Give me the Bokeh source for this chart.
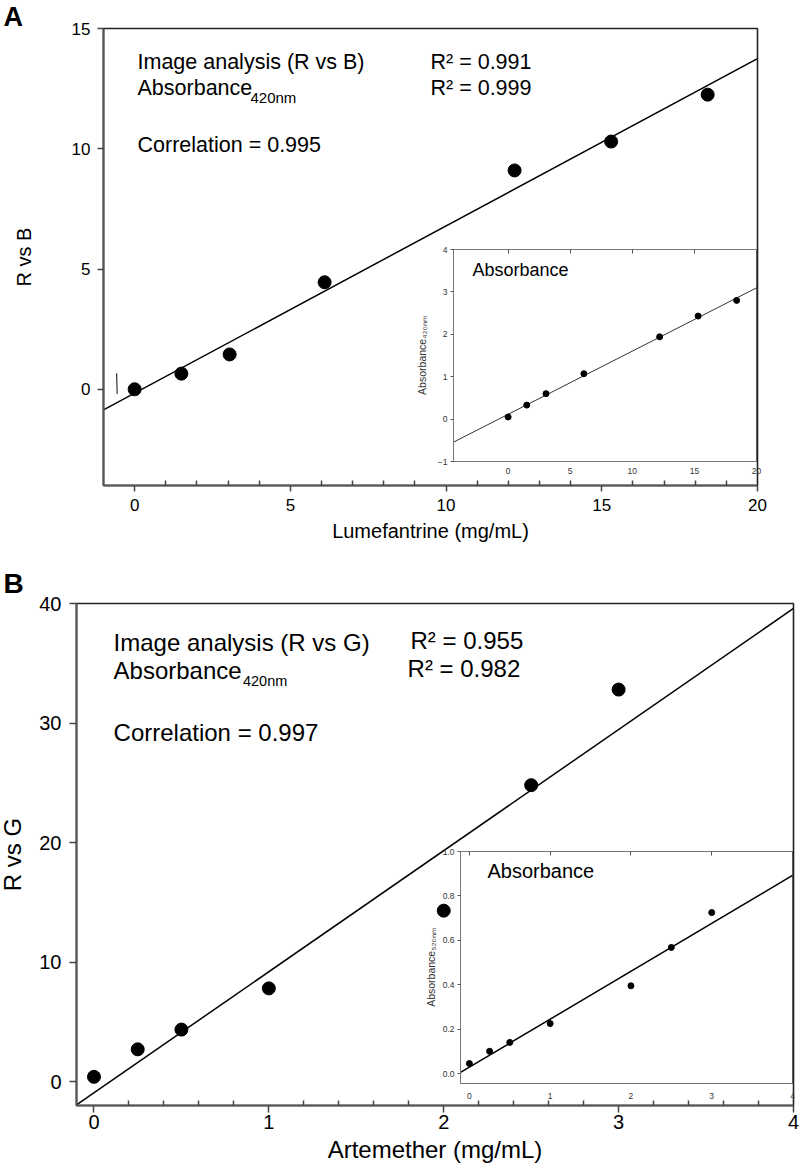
import numpy as np
from bokeh.plotting import figure
from bokeh.models import Range1d, FixedTicker, Label, LinearAxis, NumeralTickFormatter
from bokeh.embed import file_html
from bokeh.resources import INLINE

FONT = "Liberation Sans"

# ---------------- Panel A : Lumefantrine ----------------
lum_conc = [0.0, 1.5, 3.05, 6.1, 12.2, 15.3, 18.4]          # mg/mL
lum_r_vs_b = [0.0, 0.65, 1.45, 4.45, 9.1, 10.3, 12.25]      # image analysis (R vs B)
lum_abs420 = [0.05, 0.33, 0.60, 1.07, 1.94, 2.43, 2.80]     # inset absorbance
stray_x = [-0.58, -0.56]                                    # small stray mark near origin
stray_y = [0.67, -0.19]

a_xticks = [0, 5, 10, 15, 20]
a_xminor = [1, 2, 3, 4, 6, 7, 8, 9, 11, 12, 13, 14, 16, 17, 18, 19]
a_yticks = [0, 5, 10, 15]
ia_xticks = [0, 5, 10, 15, 20]
ia_yticks = [-1, 0, 1, 2, 3, 4]

# ---------------- Panel B : Artemether ----------------
art_conc = [0.0, 0.25, 0.5, 1.0, 2.0, 2.5, 3.0]             # mg/mL
art_r_vs_g = [0.4, 2.7, 4.35, 7.8, 14.3, 24.8, 32.8]        # image analysis (R vs G)
art_abs520 = [0.045, 0.10, 0.14, 0.225, 0.395, 0.568, 0.725]  # inset absorbance

b_xticks = [0, 1, 2, 3, 4]
b_xminor = [0.2, 0.4, 0.6, 0.8, 1.2, 1.4, 1.6, 1.8, 2.2, 2.4, 2.6, 2.8, 3.2, 3.4, 3.6, 3.8]
b_yticks = [0, 10, 20, 30, 40]
ib_xticks = [0, 1, 2, 3, 4]
ib_yticks = [0.0, 0.2, 0.4, 0.6, 0.8, 1.0]

# axis limits of each panel
A_XL, A_YL = (-1.0, 20.0), (-4.0, 15.0)
IA_XL, IA_YL = (-4.4, 20.0), (-1.0, 4.0)
B_XL, B_YL = (-0.1, 4.0), (-2.0, 40.0)
IB_XL, IB_YL = (-0.11, 4.0), (-0.045, 1.0)

# ---------------- one canvas, four panels placed by their own ranges ----------------
W, H = 800, 1168

# pixel boxes of the panels' frames (left, right, top, bottom)
BOX = {
    "a": (103, 757, 28, 485),
    "ia": (453, 756, 249, 461),
    "b": (76, 793, 603, 1105),
    "ib": (460, 792, 851, 1083),
}
LIMS = {"a": (A_XL, A_YL), "ia": (IA_XL, IA_YL), "b": (B_XL, B_YL), "ib": (IB_XL, IB_YL)}


def x_range_for(lim, p0, p1):
    a, b = lim
    k = (b - a) / (p1 - p0)
    return Range1d(a - p0 * k, b + (W - p1) * k)


def y_range_for(lim, top, bottom):
    a, b = lim
    k = (b - a) / (bottom - top)
    return Range1d(a - (H - bottom) * k, b + top * k)


p = figure(width=W, height=H, x_range=Range1d(0, W), y_range=Range1d(0, H),
           x_axis_type=None, y_axis_type=None,
           output_backend="svg", toolbar_location=None,
           min_border_left=0, min_border_right=0, min_border_top=0, min_border_bottom=0)
p.outline_line_color = None
p.title.visible = False
p.extra_x_ranges = {k: x_range_for(LIMS[k][0], BOX[k][0], BOX[k][1]) for k in BOX}
p.extra_y_ranges = {k: y_range_for(LIMS[k][1], BOX[k][2], BOX[k][3]) for k in BOX}


def fit_line(x, y, lim):
    m, b = np.polyfit(np.array(x), np.array(y), 1)
    return list(lim), [m * lim[0] + b, m * lim[1] + b]


def txt(k, x, y, s, size, bold=False, color="black", baseline="middle"):
    p.add_layout(Label(x=x, y=y, x_range_name=k, y_range_name=k, text=s,
                       text_font=FONT, text_font_size=size,
                       text_font_style="bold" if bold else "normal",
                       text_color=color, text_align="left", text_baseline=baseline))


def main_axes(k, xt, xm, yt, tick_font, label_font, tick_out, xlabel, ylabel,
              xt_st, xl_st, yt_st, yl_st):
    xl, yl = LIMS[k]
    common = dict(x_range_name=k, y_range_name=k,
                  axis_line_color="#555555", axis_line_width=2,
                  major_tick_line_color="#444444", major_tick_line_width=1.5,
                  minor_tick_line_color="#444444", minor_tick_line_width=1.5,
                  major_tick_in=0, major_tick_out=tick_out,
                  minor_tick_in=5, minor_tick_out=0,
                  major_label_text_font=FONT, major_label_text_font_size=tick_font,
                  major_label_text_color="black",
                  axis_label_text_font=FONT, axis_label_text_font_size=label_font,
                  axis_label_text_font_style="normal", axis_label_text_color="black")
    xa = LinearAxis(fixed_location=yl[0], bounds=xl,
                    ticker=FixedTicker(ticks=xt, minor_ticks=xm),
                    axis_label=xlabel, major_label_standoff=xt_st,
                    axis_label_standoff=xl_st, **common)
    ya = LinearAxis(fixed_location=xl[0], bounds=yl,
                    ticker=FixedTicker(ticks=yt, minor_ticks=[]),
                    axis_label=ylabel, major_label_standoff=yt_st,
                    axis_label_standoff=yl_st, **common)
    p.add_layout(xa, "below")
    p.add_layout(ya, "left")


def inset_axes(k, xt, yt, ylabel, yl_st, xt_st, yfmt=None):
    xl, yl = LIMS[k]
    common = dict(x_range_name=k, y_range_name=k,
                  axis_line_color="#777777", axis_line_width=1,
                  major_tick_line_color="#555555", minor_tick_line_color="#555555",
                  major_label_text_font=FONT, major_label_text_font_size="8.5px",
                  major_label_text_color="#333333",
                  axis_label_text_font=FONT, axis_label_text_font_size="10.5px",
                  axis_label_text_font_style="normal", axis_label_text_color="#333333")
    xa = LinearAxis(fixed_location=yl[0], bounds=xl,
                    ticker=FixedTicker(ticks=xt, minor_ticks=[]),
                    major_tick_in=0, major_tick_out=0,
                    major_label_standoff=xt_st, **common)
    top = LinearAxis(fixed_location=yl[1], bounds=xl,
                     ticker=FixedTicker(ticks=[], minor_ticks=xt),
                     minor_tick_in=4, minor_tick_out=0, **common)
    ya = LinearAxis(fixed_location=xl[0], bounds=yl,
                    ticker=FixedTicker(ticks=yt, minor_ticks=[]),
                    major_tick_in=0, major_tick_out=3, major_label_standoff=3,
                    axis_label=ylabel, axis_label_standoff=yl_st, **common)
    if yfmt:
        ya.formatter = NumeralTickFormatter(format=yfmt)
    p.add_layout(xa, "below")
    p.add_layout(top, "above")
    p.add_layout(ya, "left")


def panel_box(k, fill, color, width):
    xl, yl = LIMS[k]
    p.quad(left=[xl[0]], right=[xl[1]], bottom=[yl[0]], top=[yl[1]],
           x_range_name=k, y_range_name=k,
           fill_color=fill, line_color=color, line_width=width)


# ================= Panel A =================
lx, ly = fit_line(lum_conc, lum_r_vs_b, A_XL)
p.line(lx, ly, x_range_name="a", y_range_name="a", line_color="black", line_width=1.5)
p.scatter(lum_conc, lum_r_vs_b, x_range_name="a", y_range_name="a", size=13, color="black")
p.line(stray_x, stray_y, x_range_name="a", y_range_name="a", line_color="#333333", line_width=1.2)

panel_box("ia", "white", "#777777", 1)
ix, iy = fit_line(lum_conc, lum_abs420, IA_XL)
p.line(ix, iy, x_range_name="ia", y_range_name="ia", line_color="#333333", line_width=1)
p.scatter(lum_conc, lum_abs420, x_range_name="ia", y_range_name="ia", size=6, color="black")
panel_box("a", None, "#222222", 1.6)

main_axes("a", a_xticks, a_xminor, a_yticks, "17px", "20px", 6,
          "Lumefantrine (mg/mL)", "R vs B", 7, 6, 7, 34)
inset_axes("ia", ia_xticks, ia_yticks, "Absorbance\u2084\u2082\u2080\u2099\u2098", 7, 6)

txt("a", -4.21, 16.10, "A", "27px", bold=True, baseline="top")
txt("a", 0.092, 13.59, "Image analysis (R vs B)", "21.5px")
txt("a", 0.092, 12.51, "Absorbance", "21.5px")
txt("a", 3.72, 12.13, "420nm", "15px")
txt("a", 0.092, 10.14, "Correlation = 0.995", "21.5px")
txt("a", 9.50, 13.59, "R\u00b2 = 0.991", "21.5px")
txt("a", 9.50, 12.51, "R\u00b2 = 0.999", "21.5px")
txt("ia", -2.87, 3.51, "Absorbance", "18px")

# ================= Panel B =================
bx, by = fit_line(art_conc, art_r_vs_g, B_XL)
p.line(bx, by, x_range_name="b", y_range_name="b", line_color="black", line_width=1.5)
p.scatter(art_conc, art_r_vs_g, x_range_name="b", y_range_name="b", size=13, color="black")

panel_box("ib", "white", "#777777", 1)
jx, jy = fit_line(art_conc, art_abs520, IB_XL)
p.line(jx, jy, x_range_name="ib", y_range_name="ib", line_color="black", line_width=1.5)
p.scatter(art_conc, art_abs520, x_range_name="ib", y_range_name="ib", size=6, color="black")
panel_box("b", None, "#222222", 1.6)

main_axes("b", b_xticks, b_xminor, b_yticks, "20px", "24px", 7,
          "Artemether (mg/mL)", "R vs G", 2, 4, 8, 10)
inset_axes("ib", ib_xticks, ib_yticks, "Absorbance\u2085\u2082\u2080\u2099\u2098", 3, 9, yfmt="0.0")

txt("b", -0.517, 41.67, "B", "28px", bold=True)
txt("b", 0.112, 36.74, "Image analysis (R vs G)", "24px")
txt("b", 0.112, 34.40, "Absorbance", "24px")
txt("b", 0.852, 33.50, "420nm", "14.5px")
txt("b", 0.112, 29.21, "Correlation = 0.997", "24px")
txt("b", 1.810, 36.91, "R\u00b2 = 0.955", "24px")
txt("b", 1.793, 34.56, "R\u00b2 = 0.982", "24px")
txt("ib", 0.224, 0.914, "Absorbance", "20px")

open("out.html", "w").write(file_html(p, INLINE))
